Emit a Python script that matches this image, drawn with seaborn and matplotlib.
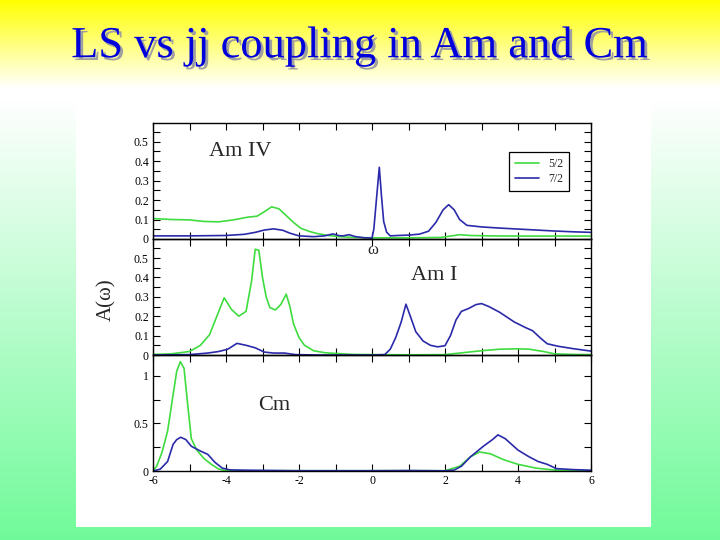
import numpy as np
import pandas as pd
import matplotlib
matplotlib.use("Agg")
import matplotlib.pyplot as plt
import matplotlib.patheffects as pe
from matplotlib.patches import Rectangle
from matplotlib.ticker import MultipleLocator, FuncFormatter
import seaborn as sns

# ---------------- data ----------------
title = "LS vs jj coupling in Am and Cm"
panel_names = ["Am IV", "Am I", "Cm"]
series_names = ["5/2", "7/2"]
x_ticks = [-6, -4, -2, 0, 2, 4, 6]

# Am IV
g1_x = [-6, -5.5, -5, -4.6, -4.2, -3.8, -3.4, -3.15, -2.95, -2.75, -2.55, -2.35, -2.15, -1.95,
        -1.7, -1.5, -1.2, -0.9, -0.5, 0, 1, 1.9, 2.1, 2.4, 2.7, 3.2, 4, 5, 6]
g1_y = [0.105, 0.100, 0.098, 0.090, 0.088, 0.098, 0.112, 0.117, 0.140, 0.165, 0.155, 0.120, 0.085,
        0.055, 0.038, 0.028, 0.018, 0.012, 0.008, 0.006, 0.006, 0.008, 0.014, 0.022, 0.018, 0.016,
        0.015, 0.015, 0.015]
b1_x = [-6, -5, -4, -3.5, -3.2, -2.95, -2.7, -2.45, -2.25, -2.0, -1.6, -1.3, -1.07, -0.9, -0.8,
        -0.63, -0.45, -0.2, 0.0, 0.05, 0.12, 0.20, 0.26, 0.32, 0.4, 0.5, 0.7, 1.0, 1.3, 1.55, 1.75,
        1.95, 2.1, 2.25, 2.4, 2.6, 3.0, 3.5, 4.0, 4.5, 5.0, 5.5, 6.0]
b1_y = [0.016, 0.016, 0.018, 0.024, 0.034, 0.046, 0.052, 0.045, 0.030, 0.016, 0.012, 0.016, 0.026,
        0.017, 0.016, 0.022, 0.012, 0.006, 0.005, 0.05, 0.20, 0.368, 0.22, 0.09, 0.035, 0.016, 0.018,
        0.020, 0.025, 0.040, 0.085, 0.150, 0.176, 0.150, 0.100, 0.070, 0.062, 0.056, 0.051, 0.046,
        0.041, 0.037, 0.034]

# Am I
g2_x = [-6, -5.5, -5.0, -4.7, -4.45, -4.25, -4.05, -3.85, -3.65, -3.45, -3.3, -3.2, -3.1, -3.0,
        -2.9, -2.8, -2.65, -2.5, -2.35, -2.25, -2.15, -2.0, -1.85, -1.6, -1.3, -1.0, -0.5, 0, 1, 2,
        2.5, 3, 3.5, 4, 4.3, 4.7, 5.0, 5.5, 6]
g2_y = [0.003, 0.006, 0.018, 0.050, 0.105, 0.200, 0.295, 0.235, 0.200, 0.225, 0.380, 0.545, 0.540,
        0.400, 0.300, 0.245, 0.232, 0.260, 0.314, 0.250, 0.160, 0.090, 0.050, 0.022, 0.012, 0.008,
        0.003, 0.002, 0.001, 0.002, 0.012, 0.022, 0.030, 0.032, 0.030, 0.018, 0.006, 0.003, 0.002]
b2_x = [-6, -5, -4.5, -4.2, -3.95, -3.7, -3.45, -3.2, -2.95, -2.7, -2.4, -2.1, -1.5, 0, 0.35, 0.5,
        0.65, 0.8, 0.93, 1.05, 1.2, 1.4, 1.6, 1.8, 2.0, 2.15, 2.3, 2.45, 2.65, 2.85, 3.0, 3.2, 3.5,
        3.9, 4.2, 4.4, 4.6, 4.8, 5.1, 5.5, 6]
b2_y = [0.0, 0.002, 0.010, 0.018, 0.030, 0.060, 0.050, 0.037, 0.015, 0.010, 0.010, 0.002, 0.0, 0.0,
        0.002, 0.030, 0.090, 0.170, 0.262, 0.200, 0.120, 0.072, 0.050, 0.042, 0.048, 0.100, 0.180,
        0.225, 0.240, 0.260, 0.265, 0.250, 0.220, 0.170, 0.142, 0.125, 0.090, 0.058, 0.045, 0.033,
        0.020]

# Cm
g3_x = [-6, -5.9, -5.75, -5.6, -5.45, -5.35, -5.25, -5.15, -5.05, -4.95, -4.8, -4.6, -4.4, -4.2,
        -4.0, 2.0, 2.4, 2.7, 2.95, 3.25, 3.6, 4.0, 4.5, 5.0, 6.0]
g3_y = [0.0, 0.05, 0.20, 0.42, 0.80, 1.05, 1.15, 1.08, 0.70, 0.34, 0.22, 0.13, 0.07, 0.02, 0.003,
        0.003, 0.05, 0.15, 0.20, 0.18, 0.12, 0.07, 0.03, 0.01, 0.003]
b3_x = [-6, -5.8, -5.6, -5.45, -5.35, -5.24, -5.1, -4.95, -4.7, -4.5, -4.3, -4.1, -3.9, -3.4, -2, 0,
        1, 2.0, 2.25, 2.45, 2.7, 3.05, 3.3, 3.45, 3.65, 4.0, 4.3, 4.55, 4.8, 5.05, 5.5, 6]
b3_y = [0.0, 0.02, 0.10, 0.28, 0.33, 0.355, 0.33, 0.26, 0.21, 0.175, 0.09, 0.03, 0.012, 0.008, 0.003,
        0.003, 0.005, 0.002, 0.01, 0.05, 0.15, 0.26, 0.33, 0.38, 0.34, 0.22, 0.15, 0.10, 0.07, 0.025,
        0.015, 0.008]

panels = [
    (g1_x, g1_y, b1_x, b1_y),
    (g2_x, g2_y, b2_x, b2_y),
    (g3_x, g3_y, b3_x, b3_y),
]

# ---------------- style ----------------
sns.set_style("ticks")
plt.rcParams['font.family'] = ['Liberation Serif', 'DejaVu Serif']

GREEN = "#3fdc3f"
BLUE = "#2a2aaa"

W, H = 720, 540
fig = plt.figure(figsize=(7.2, 5.4), dpi=100)

# gradient background
bg = fig.add_axes([0, 0, 1, 1], zorder=-10)
img = np.ones((H, 1, 3))
yellow = np.array([1.0, 1.0, 0.0])
white = np.array([1.0, 1.0, 1.0])
green = np.array([0.44, 0.98, 0.60])
for r in range(H):
    if r < 88:
        t = r / 88.0
        img[r, 0] = yellow * (1 - t) + white * t
    elif r < 100:
        img[r, 0] = white
    else:
        t = (r - 100) / (H - 100)
        img[r, 0] = white * (1 - t) + green * t
bg.imshow(img, aspect='auto', extent=[0, 1, 0, 1], origin='upper')
bg.set_axis_off()

# white panel
fig.patches.append(Rectangle((76 / W, (H - 527) / H), 575 / W, 432 / H,
                             transform=fig.transFigure, facecolor='white',
                             edgecolor='none', zorder=-5))

# title with shadow
fig.text(0.5, (H - 46) / H, title, ha='center', va='center',
         fontsize=32, color='#0000dd', family='Liberation Serif',
         path_effects=[pe.withSimplePatchShadow(offset=(2, -2), shadow_rgbFace='#a0a0a0',
                                                alpha=1.0)])

left = 153 / W
width = 438 / W
tops = [123, 239, 355]
ph = 116
ylims = [(0, 0.595), (0, 0.598), (0, 1.22)]
ymaj = [0.1, 0.1, 0.5]
ymin = [0.05, 0.05, 0.25]

def fmt(v, pos):
    if abs(v) < 1e-9:
        return "0"
    return f"{v:.2f}".rstrip('0').rstrip('.')

for i, (gx, gy, bx, by) in enumerate(panels):
    ax = fig.add_axes([left, (H - tops[i] - ph) / H, width, ph / H])
    ax.set_facecolor('none')
    df_g = pd.DataFrame({"w": gx, "A": gy})
    df_b = pd.DataFrame({"w": bx, "A": by})
    sns.lineplot(data=df_g, x="w", y="A", ax=ax, color=GREEN, lw=1.2,
                 estimator=None, sort=False, label=series_names[0])
    sns.lineplot(data=df_b, x="w", y="A", ax=ax, color=BLUE, lw=1.2,
                 estimator=None, sort=False, label=series_names[1])
    ax.set_xlim(-6, 6)
    ax.set_ylim(*ylims[i])
    ax.set_xlabel("")
    ax.set_ylabel("")
    ax.xaxis.set_major_locator(MultipleLocator(2))
    ax.xaxis.set_minor_locator(MultipleLocator(1))
    ax.yaxis.set_major_locator(MultipleLocator(ymaj[i]))
    ax.yaxis.set_minor_locator(MultipleLocator(ymin[i]))
    ax.yaxis.set_major_formatter(FuncFormatter(fmt))
    ax.tick_params(which='both', direction='in', top=True, right=True,
                   length=5, width=0.8, labelsize=8.5, pad=3, colors='black')
    ax.tick_params(which='minor', length=5)
    for s in ax.spines.values():
        s.set_linewidth(1.0)
        s.set_color('black')
    if i < 2:
        ax.tick_params(axis='x', labelbottom=False)
    else:
        ax.set_xticks(x_ticks)
        ax.set_xticklabels([str(t) for t in x_ticks])
    if i == 0:
        leg = ax.legend(loc='upper left', bbox_to_anchor=(0.80, 0.80), fontsize=8.5,
                        frameon=True, fancybox=False, edgecolor='black', handlelength=2.0,
                        borderpad=0.5, labelspacing=0.25, handletextpad=0.8)
        leg.get_frame().set_linewidth(0.9)
        leg.get_frame().set_alpha(1)
    else:
        ax.get_legend().remove()

# panel annotations
fig.text(240 / W, (H - 151) / H, panel_names[0], ha='center', va='center', fontsize=16)
fig.text(434 / W, (H - 276) / H, panel_names[1], ha='center', va='center', fontsize=16)
fig.text(274 / W, (H - 405) / H, panel_names[2], ha='center', va='center', fontsize=16)

# axis labels
fig.text(373 / W, (H - 250) / H, "ω", ha='center', va='center', fontsize=12)
fig.text(107 / W, (H - 300) / H, "A(ω)", ha='center', va='center', fontsize=15, rotation=90)

fig.savefig("out.png", dpi=100)
